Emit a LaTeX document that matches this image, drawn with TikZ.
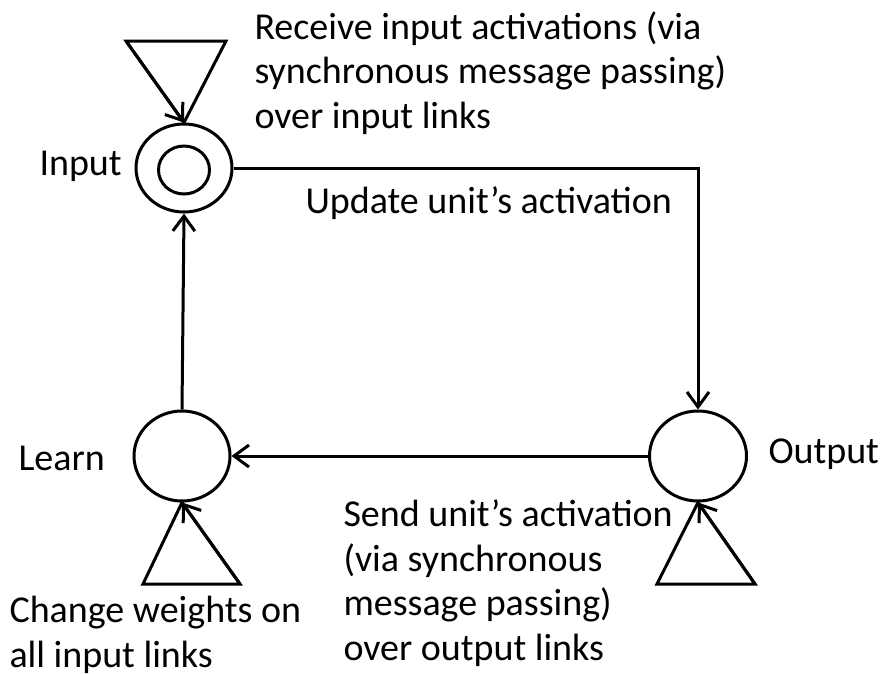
\documentclass[tikz,border=0pt]{standalone}
\usepackage{fontspec}
\setmainfont{Carlito}
\usetikzlibrary{shapes.geometric,arrows.meta}

\begin{document}
\begin{tikzpicture}[x=1pt,y=-1pt,line width=3pt,line join=miter,
    unit/.style={draw,ellipse,inner sep=0pt},
    arr/.style={-{Straight Barb[length=15pt,width=22pt]}},
    lbl/.style={inner sep=0pt,font=\fontsize{38}{44.5}\selectfont},
    note/.style={lbl,align=left}]
  \useasboundingbox (0,0) rectangle (880,673);
  \node[unit,minimum width=96pt,minimum height=88pt] (input) at (184,168) {};
  \node[unit,minimum width=51pt,minimum height=48pt] (core) at (184,170) {};
  \node[unit,minimum width=96pt,minimum height=90pt] (learn) at (182,456) {};
  \node[unit,minimum width=97pt,minimum height=90pt] (output) at (698,456) {};
  \coordinate (inL) at (126,41);
  \coordinate (inR) at (226,41);
  \coordinate (lnL) at (143,584);
  \coordinate (lnR) at (240,584);
  \coordinate (outL) at (657,584);
  \coordinate (outR) at (755,584);
  \draw (inL) -- (inR) -- (input.north) -- cycle;
  \draw[arr] (inL) -- (input.north);
  \draw (lnL) -- (lnR) -- (learn.south) -- cycle;
  \draw[arr] (lnR) -- (learn.south);
  \draw (outL) -- (outR) -- (output.south) -- cycle;
  \draw[arr] (outR) -- (output.south);
  \draw[arr] (input.east) -| (output.north);
  \draw[arr] (output.west) -- (learn.east);
  \draw[arr] (learn.north) -- (input.south);
  % multi-line notes sit on the baseline of their last line
  \node[lbl,anchor=base west] (inputlbl) at (38,175) {Input};
  \node[lbl,anchor=base west] (learnlbl) at (17,470) {Learn};
  \node[lbl,anchor=base west] (outputlbl) at (767,463) {Output};
  \node[lbl,anchor=base west] (updatelbl) at (304,213) {Update unit’s activation};
  \node[note,anchor=base west] (receivelbl) at (253,128)
    {Receive input activations (via\\synchronous message passing)\\over input links};
  \node[note,anchor=base west] (sendlbl) at (342,660)
    {Send unit’s activation\\(via synchronous\\message passing)\\over output links};
  \node[note,anchor=base west] (changelbl) at (8,667)
    {Change weights on\\all input links};
\end{tikzpicture}
\end{document}
